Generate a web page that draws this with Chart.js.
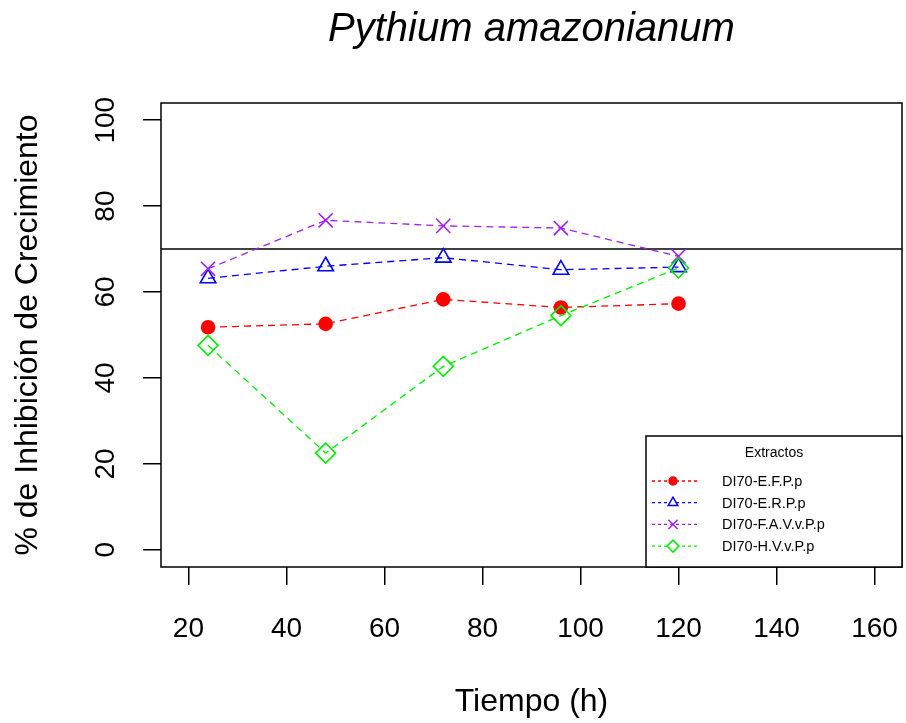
<!DOCTYPE html>
<html>
<head>
<meta charset="utf-8">
<script src="https://cdn.jsdelivr.net/npm/chart.js@4/dist/chart.umd.min.js"></script>
<style>
    html, body { margin: 0; padding: 0; background: #fff; }
</style>
</head>
<body>
<canvas id="chart" width="906" height="723"></canvas>
<script>
// datos
const horas = [24, 48, 72, 96, 120];
const efpp = [51.8, 52.6, 58.3, 56.4, 57.3];
const erpp = [63.2, 66.0, 68.0, 65.2, 65.8];
const favvpp = [65.4, 76.7, 75.4, 74.9, 68.3];
const hvvpp = [47.6, 22.5, 42.7, 54.5, 65.6];
const nombres = ['DI70-E.F.P.p', 'DI70-E.R.P.p', 'DI70-F.A.V.v.P.p', 'DI70-H.V.v.P.p'];
const xTicks = [20, 40, 60, 80, 100, 120, 140, 160];
const yTicks = [0, 20, 40, 60, 80, 100];
const umbral = 70;

const fuente = '"Liberation Sans", Arial, sans-serif';
Chart.defaults.font.family = fuente;
Chart.defaults.color = '#000';

const estilos = [
    { color: '#ff0000', punto: 'circle', radio: 6.5, relleno: true, radioLeyenda: 4 },
    { color: '#0000ff', punto: 'triangle', radio: 9, relleno: false, radioLeyenda: 5.5 },
    { color: '#a020f0', punto: 'crossRot', radio: 10, relleno: false, radioLeyenda: 6.5 },
    { color: '#00ee00', punto: 'rectRot', radio: 10, relleno: false, radioLeyenda: 6 }
];
const series = [efpp, erpp, favvpp, hvvpp];

const datasets = series.map((valores, i) => ({
    label: nombres[i],
    data: horas.map((h, j) => ({ x: h, y: valores[j] })),
    borderColor: estilos[i].color,
    backgroundColor: estilos[i].relleno ? estilos[i].color : 'rgba(0,0,0,0)',
    borderWidth: 1.3,
    borderDash: [7, 5],
    pointStyle: estilos[i].punto,
    pointRadius: estilos[i].radio,
    pointBorderWidth: 1.6,
    pointBorderColor: estilos[i].color,
    pointBackgroundColor: estilos[i].relleno ? estilos[i].color : 'rgba(0,0,0,0)',
    tension: 0,
    fill: false,
    order: series.length - i
}));

// caja, linea de 70 y leyenda
const marco = {
    id: 'marco',
    beforeDatasetsDraw(chart) {
        const { ctx, chartArea: a, scales } = chart;
        const y = scales.y.getPixelForValue(umbral);
        ctx.save();
        ctx.strokeStyle = '#000';
        ctx.lineWidth = 1.5;
        ctx.beginPath();
        ctx.moveTo(a.left, y);
        ctx.lineTo(a.right, y);
        ctx.stroke();
        ctx.restore();
    },
    afterDraw(chart) {
        const { ctx, chartArea: a } = chart;
        ctx.save();
        ctx.strokeStyle = '#000';
        ctx.lineWidth = 1.5;
        ctx.strokeRect(a.left, a.top, a.right - a.left, a.bottom - a.top);

        const w = 256, h = 131;
        const x0 = a.right - w, y0 = a.bottom - h;
        ctx.fillStyle = '#fff';
        ctx.fillRect(x0, y0, w, h);
        ctx.strokeRect(x0, y0, w, h);

        ctx.fillStyle = '#000';
        ctx.font = '14px ' + fuente;
        ctx.textAlign = 'center';
        ctx.textBaseline = 'middle';
        ctx.fillText('Extractos', x0 + w / 2, y0 + 17);

        ctx.font = '14.5px ' + fuente;
        ctx.textAlign = 'left';
        nombres.forEach((nombre, i) => {
            const yy = y0 + 45 + i * 21.7;
            const e = estilos[i];
            ctx.strokeStyle = e.color;
            ctx.lineWidth = 1.3;
            ctx.setLineDash([3, 3]);
            ctx.beginPath();
            ctx.moveTo(x0 + 6, yy);
            ctx.lineTo(x0 + 51, yy);
            ctx.stroke();
            ctx.setLineDash([]);
            ctx.fillStyle = e.relleno ? e.color : '#fff';
            ctx.lineWidth = 1.5;
            Chart.helpers.drawPoint(ctx, {
                pointStyle: e.punto, radius: e.radioLeyenda, rotation: 0, borderWidth: 1.5
            }, x0 + 27, yy);
            ctx.fillStyle = '#000';
            ctx.fillText(nombre, x0 + 76, yy + 1);
        });
        ctx.restore();
    }
};

new Chart(document.getElementById('chart'), {
    type: 'line',
    data: { datasets: datasets },
    plugins: [marco],
    options: {
        responsive: false,
        animation: false,
        devicePixelRatio: 1,
        layout: { autoPadding: false, padding: { left: 0, right: 4, top: 0, bottom: 0 } },
        plugins: {
            legend: { display: false },
            tooltip: { enabled: false },
            title: {
                display: true,
                fullSize: false,
                text: 'Pythium amazonianum',
                color: '#000',
                font: { size: 40, style: 'italic', weight: 'normal' },
                padding: { top: 6, bottom: 49 }
            }
        },
        scales: {
            x: {
                type: 'linear',
                min: 14.4,
                max: 165.6,
                afterBuildTicks: (s) => { s.ticks = xTicks.map(v => ({ value: v })); },
                afterFit: (s) => { s.height = 156; s.paddingLeft = 0; s.paddingRight = 0; },
                border: { display: false },
                grid: { drawOnChartArea: false, drawTicks: true, tickLength: 18, color: '#000', lineWidth: 1.5 },
                ticks: { autoSkip: false, maxRotation: 0, padding: 27, color: '#000', font: { size: 28 } },
                title: { display: true, text: 'Tiempo (h)', color: '#000', font: { size: 32 }, padding: { top: 0, bottom: 2 } }
            },
            y: {
                type: 'linear',
                min: -4,
                max: 104,
                afterBuildTicks: (s) => { s.ticks = yTicks.map(v => ({ value: v })); },
                afterFit: (s) => { s.width = 161; s.paddingTop = 0; s.paddingBottom = 0; },
                border: { display: false },
                grid: { drawOnChartArea: false, drawTicks: true, tickLength: 18, color: '#000', lineWidth: 1.5 },
                ticks: { autoSkip: false, minRotation: 90, maxRotation: 90, crossAlign: 'center', padding: 13, color: '#000', font: { size: 28 } },
                title: { display: true, text: '% de Inhibición de Crecimiento', color: '#000', font: { size: 32 }, padding: { top: 9, bottom: 0 } }
            }
        }
    }
});
</script>
</body>
</html>
